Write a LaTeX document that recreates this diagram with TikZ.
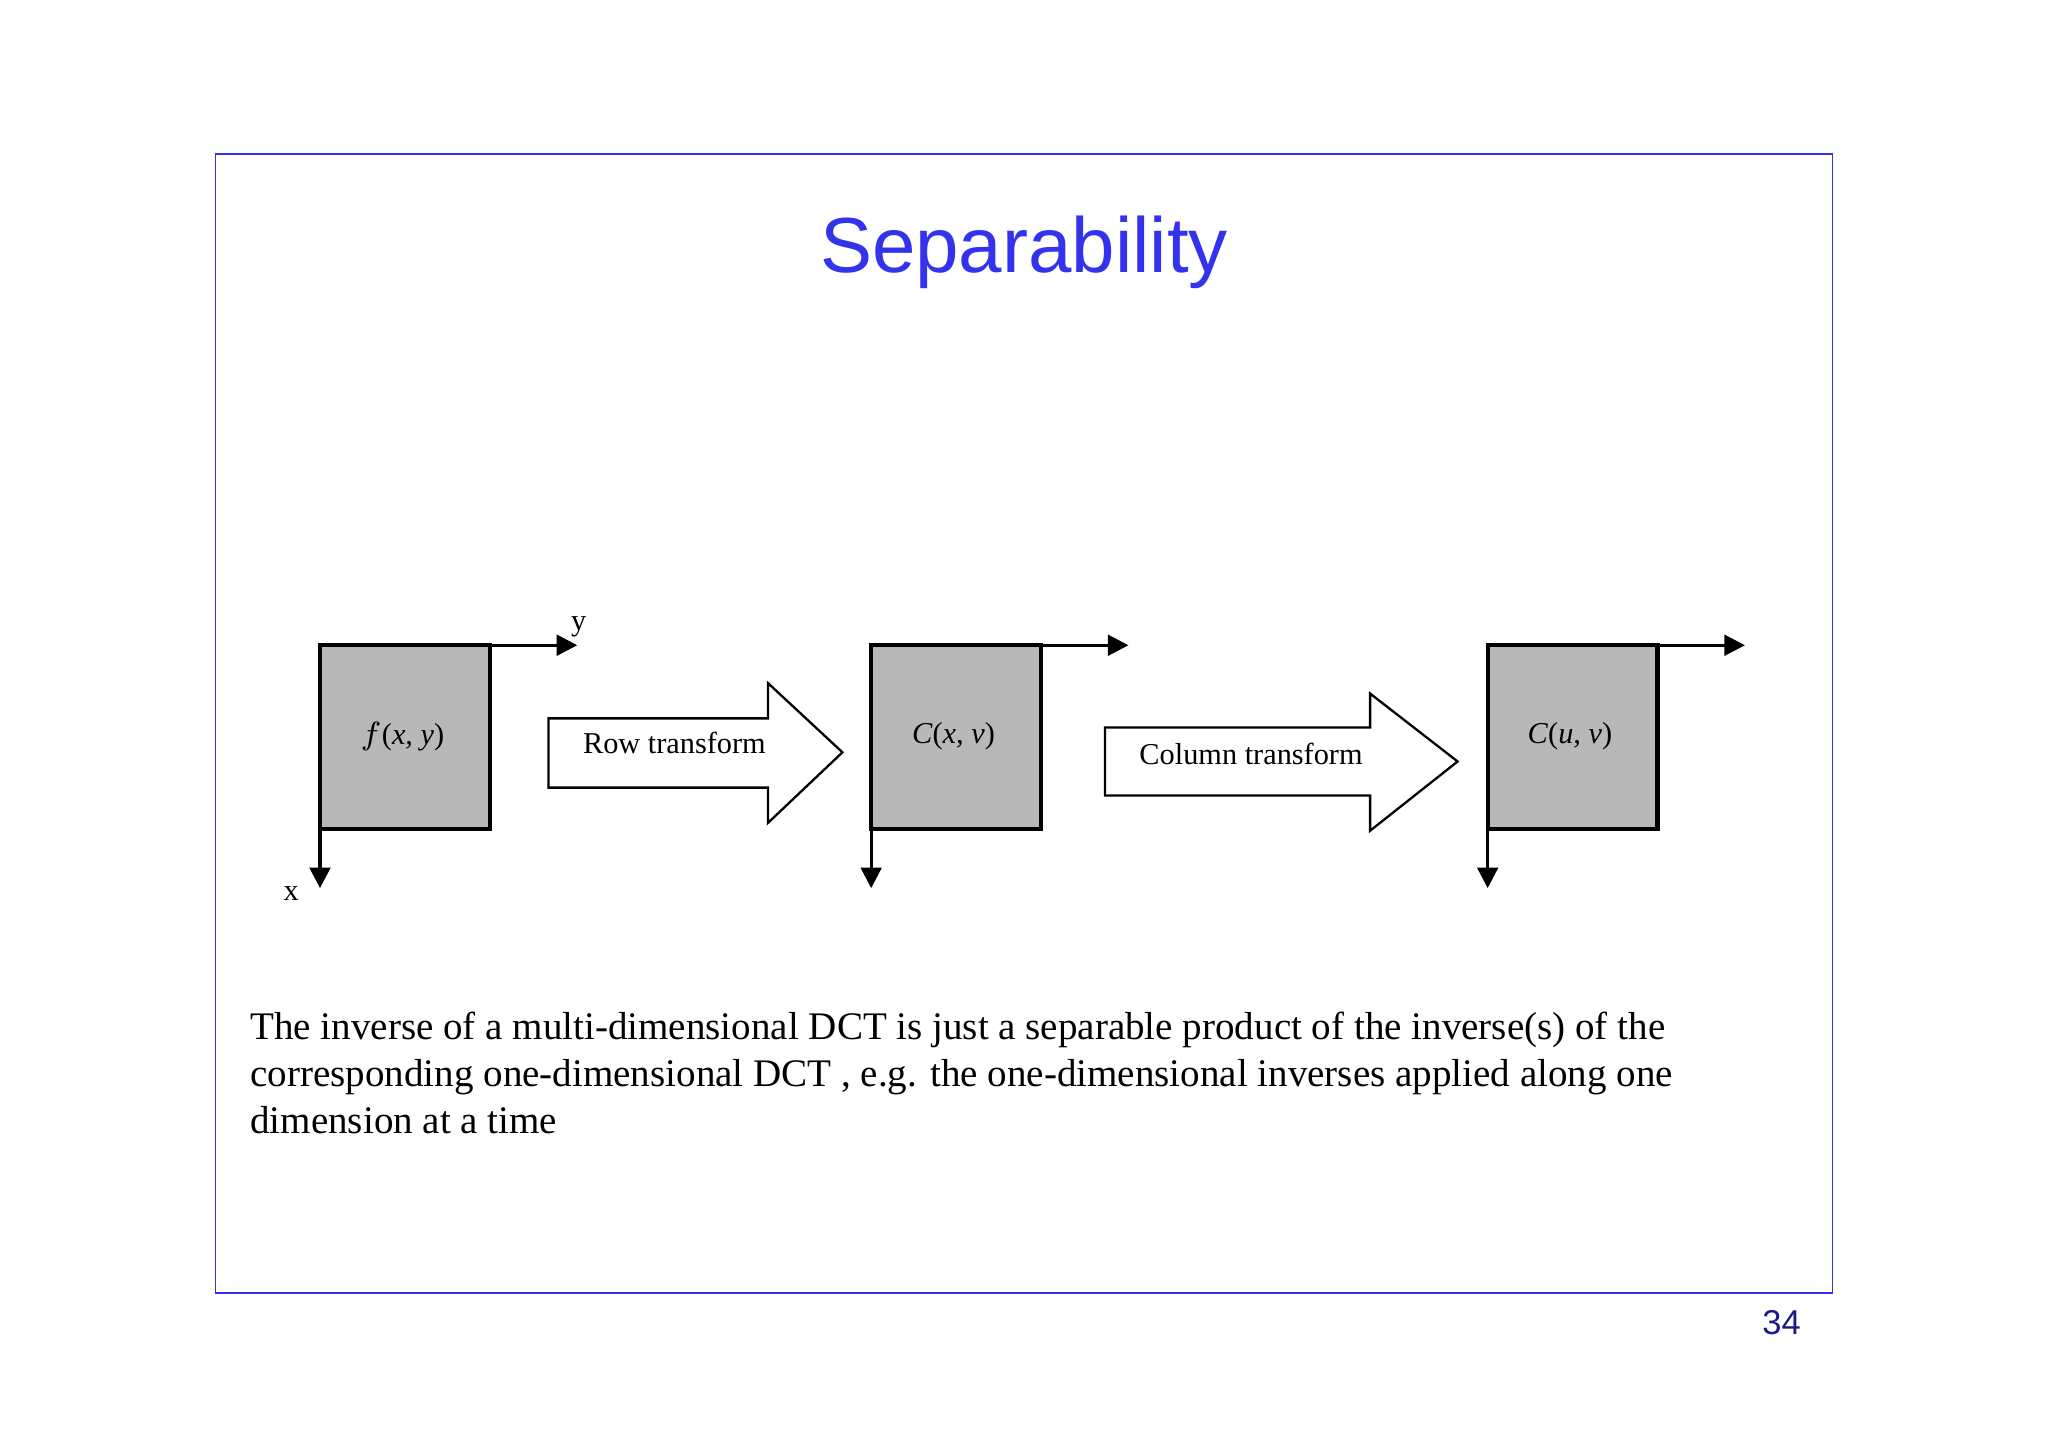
\documentclass[tikz,border=0pt]{standalone}
\usepackage{fontspec}
\setmainfont{Liberation Serif}
\newfontfamily\arialf{Liberation Sans}
\usetikzlibrary{arrows.meta}
\definecolor{ttl}{HTML}{3333EE}
\definecolor{navy}{HTML}{1A1A8C}
\begin{document}
\begin{tikzpicture}[x=0.01cm,y=-0.01cm,
  gbox/.style={draw=black,line width=0.9pt,fill=black!28},
  ax/.style={line width=0.7pt,-{Triangle[length=4.5pt,width=4.5pt]}},
  fat/.style={draw=black,line width=0.5pt,fill=white},
  lbl/.style={font=\fontsize{6.6}{8}\selectfont}]
\useasboundingbox (0,0) rectangle (1568,1108);
\draw[ttl,line width=0.4pt] (165,118) rectangle (1403,990);
\node[ttl,font=\arialf\fontsize{17}{20}\selectfont] (title) at (784,193) {Separability};
% boxes
\foreach \n/\x/\t/\r in {a/245/{$f$(\textit{x, y})}/442, b/667/{\textit{C}(\textit{x, v})}/864, c/1139/{\textit{C}(\textit{u, v})}/1336}{
  \draw[gbox] (\x,494) rectangle ++(130,141);
  \coordinate (\n tr) at (\x+130,494);
  \coordinate (\n bl) at (\x,635);
  \coordinate (\n re) at (\r,494);
  \coordinate (\n de) at (\x,680);
  \draw[ax] (\n tr) -- (\n re);
  \draw[ax] (\n bl) -- (\n de);
  \node[lbl] (\n t) at (\x+63,564) {\t};
}
\node[lbl] (ylab) at (443,480) {y};
\node[lbl] (xlab) at (223,684) {x};
% fat arrows
\draw[fat] (420,550) -- (588,550) -- (588,523) -- (645,576) -- (588,630) -- (588,603) -- (420,603) -- cycle;
\node[lbl,anchor=west] (rt) at (434,569) {Row transform};
\draw[fat] (846,557) -- (1049,557) -- (1049,531) -- (1116,583) -- (1049,636) -- (1049,609) -- (846,609) -- cycle;
\node[lbl,anchor=west] (ct) at (860,577) {Column transform};
% text
\node[anchor=north west,align=left,inner sep=0,font=\fontsize{8.5}{10.2}\selectfont] (para) at (191,774)
{The inverse of a multi-dimensional DCT is just a separable product of the inverse(s) of the\\
corresponding one-dimensional DCT , e.g. the one-dimensional inverses applied along one\\
dimension at a time};
\node[navy,font=\arialf\fontsize{7.5}{9}\selectfont] (pg) at (1364,1013) {34};
\end{tikzpicture}
\end{document}
